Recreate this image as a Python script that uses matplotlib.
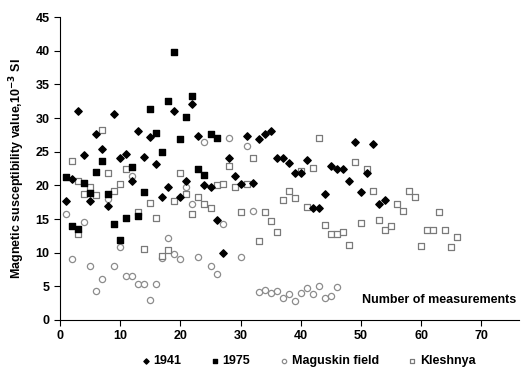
import matplotlib
matplotlib.use("Agg")
import matplotlib.pyplot as plt

plt.rcParams['font.family'] = ['Liberation Sans', 'DejaVu Sans']
plt.rcParams['font.weight'] = 'bold'

# 1941 (black diamonds)
x_1941 = list(range(1, 55))
y_1941 = [17.6, 20.9, 31.0, 24.5, 17.7, 27.6, 25.4, 16.9, 30.6, 24.1,
          24.6, 20.7, 28.1, 24.2, 27.2, 23.2, 18.2, 19.7, 31.0, 18.2,
          20.7, 32.1, 27.3, 20.1, 19.7, 14.9, 10.0, 24.1, 21.4, 20.2,
          27.3, 20.4, 26.9, 27.6, 28.0, 24.1, 24.1, 23.3, 21.8, 21.8,
          23.8, 16.6, 16.6, 18.7, 22.9, 22.4, 22.5, 20.7, 26.4, 19.0,
          21.8, 26.1, 17.3, 17.8]

# 1975 (black squares)
x_1975 = list(range(1, 27))
y_1975 = [21.3, 13.9, 13.5, 20.4, 18.9, 22.0, 23.6, 18.7, 14.3, 11.9,
          15.2, 22.7, 15.5, 19.0, 31.3, 27.7, 24.9, 32.6, 39.8, 26.9,
          30.1, 33.2, 22.4, 21.5, 27.6, 27.1]

# Maguskin field (open circles)
x_mag = [1, 2, 4, 5, 6, 7, 8, 9, 10, 11, 12, 12, 13, 14, 15, 16, 17, 18,
         19, 20, 21, 22, 23, 24, 25, 26, 27, 28, 30, 31, 32,
         33, 34, 35, 36, 37, 38, 39, 40, 41, 42, 43, 44, 45, 46]
y_mag = [15.7, 9.1, 14.5, 8.0, 4.3, 6.1, 17.9, 8.0, 10.8, 6.5, 6.6, 21.4,
         5.3, 5.3, 2.9, 5.3, 9.2, 12.2, 9.8, 9.1, 19.7, 17.3, 9.3, 26.4,
         8.0, 6.8, 14.3, 27.0, 9.4, 25.9, 16.2,
         4.1, 4.4, 4.0, 4.3, 3.3, 3.9, 2.8, 4.0, 4.7, 3.9, 5.0, 3.2, 3.5, 4.9]

# Kleshnya (open squares)
x_kle = [2, 3, 3, 4, 5, 6, 7, 8, 9, 10, 11, 13, 14, 15, 16, 17, 18, 19,
         20, 21, 22, 23, 24, 25, 26, 27, 28, 29, 30, 31, 32, 33, 34, 35,
         36, 37, 38, 39, 40, 41, 42, 43, 44, 45, 46, 47, 48, 49, 50, 51,
         52, 53, 54, 55, 56, 57, 58, 59, 60, 61, 62, 63, 64, 65, 66]
y_kle = [23.6, 20.6, 12.8, 18.7, 19.7, 18.5, 28.2, 21.8, 19.1, 20.2, 22.4,
         16.1, 10.6, 17.4, 15.1, 9.5, 10.4, 17.7, 21.9, 18.7, 15.8, 18.2,
         17.3, 16.7, 20.0, 20.2, 22.9, 19.8, 16.0, 20.2, 24.1, 11.8, 16.0,
         14.7, 13.0, 17.8, 19.2, 18.1, 22.1, 16.8, 22.6, 27.0, 14.1, 12.8,
         12.7, 13.1, 11.1, 23.5, 14.4, 22.5, 19.2, 14.9, 13.3, 14.0, 17.2,
         16.2, 19.2, 18.3, 11.0, 13.4, 13.3, 16.1, 13.4, 10.8, 12.4]

fig = plt.figure(figsize=(5.24, 3.74), dpi=100)
ax = fig.add_axes([0.1145, 0.1444, 0.8755, 0.8101])

ax.scatter(x_mag, y_mag, marker='o', s=20, facecolors='white',
           edgecolors='#8c8c8c', linewidths=0.9, label='Maguskin field', zorder=2)
ax.scatter(x_kle, y_kle, marker='s', s=20, facecolors='white',
           edgecolors='#7a7a7a', linewidths=0.9, label='Kleshnya', zorder=2)
ax.scatter(x_1941, y_1941, marker='D', s=14, color='black', label='1941', zorder=3)
ax.scatter(x_1975, y_1975, marker='s', s=20, color='black', label='1975', zorder=3)

ax.set_xlim(0, 76.2)
ax.set_ylim(0, 45)
ax.set_xticks(range(0, 80, 10))
ax.set_yticks(range(0, 50, 5))
ax.spines['top'].set_visible(False)
ax.spines['right'].set_visible(False)
ax.tick_params(direction='out', length=4, labelsize=9)
for lab in ax.get_xticklabels() + ax.get_yticklabels():
    lab.set_fontweight('bold')

ax.set_ylabel('Magnetic susceptibility value,10$^{\\mathbf{-3}}$ SI',
              fontsize=9, fontweight='bold', labelpad=6)
ax.text(75.8, 3.0, 'Number of measurements', ha='right', va='center',
        fontsize=9, fontweight='bold')

h, l = ax.get_legend_handles_labels()
order = [2, 3, 0, 1]
fig.legend([h[i] for i in order], [l[i] for i in order], loc='center',
           bbox_to_anchor=(0.587, 0.035), ncol=4, frameon=False,
           handletextpad=0.1, handlelength=1.0, columnspacing=2.2, markerscale=0.7,
           prop={'weight': 'bold', 'size': 9})

fig.savefig('out.png', dpi=100)
